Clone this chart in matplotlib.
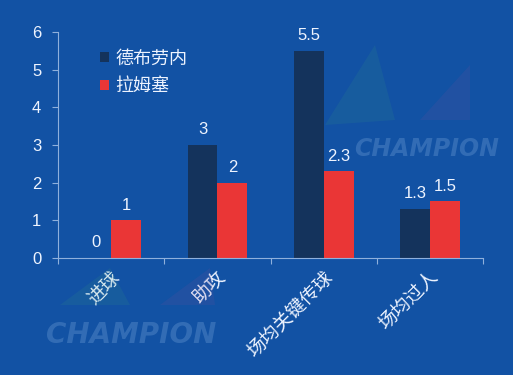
import numpy as np
import matplotlib.pyplot as plt
from matplotlib.patches import Polygon

plt.rcParams['font.family'] = ['Liberation Sans', 'Noto Sans CJK SC', 'DejaVu Sans']

categories = ['进球', '助攻', '场均关键传球', '场均过人']
players = ['德布劳内', '拉姆塞']
debruyne = [0, 3, 5.5, 1.3]
ramsey = [1, 2, 2.3, 1.5]
value_labels = [['0', '3', '5.5', '1.3'], ['1', '2', '2.3', '1.5']]

bg = '#1252a4'
dark = '#14335c'
red = '#ea3636'
txt = '#eef4ff'

fig = plt.figure(figsize=(5.13, 3.75), dpi=100)
fig.patch.set_facecolor(bg)

# faint background decoration (figure pixel coords converted to fractions)
def fpoly(pts, color):
    p = Polygon([(px / 513, 1 - py / 375) for px, py in pts], closed=True,
                transform=fig.transFigure, facecolor=color, alpha=0.13,
                edgecolor='none', zorder=0)
    fig.patches.append(p)

fpoly([(325, 125), (375, 45), (395, 120)], '#3fa07a')
fpoly([(420, 120), (470, 65), (470, 120)], '#8a4f9a')
fpoly([(60, 305), (110, 268), (130, 305)], '#3fa07a')
fpoly([(160, 305), (210, 268), (215, 305)], '#8a4f9a')

fig.text(0.69, 0.585, 'CHAMPION', fontsize=17, fontweight='bold', style='italic',
         color='#6f9fd6', alpha=0.35, family='DejaVu Sans', zorder=0)
fig.text(0.09, 0.085, 'CHAMPION', fontsize=20, fontweight='bold', style='italic',
         color='#6f9fd6', alpha=0.35, family='DejaVu Sans', zorder=0)

ax = fig.add_axes([0.113, 0.312, 0.829, 0.603])
ax.set_facecolor('none')

x = np.arange(len(categories))
w = 0.28
b1 = ax.bar(x - w / 2, debruyne, w, color=dark, label=players[0], zorder=2)
b2 = ax.bar(x + w / 2, ramsey, w, color=red, label=players[1], zorder=2)

for bars, labs in zip([b1, b2], value_labels):
    for rect, lab in zip(bars, labs):
        ax.text(rect.get_x() + rect.get_width() / 2, rect.get_height() + 0.2, lab,
                ha='center', va='bottom', color=txt, fontsize=12)

ax.set_xlim(-0.5, len(categories) - 0.5)
ax.set_ylim(0, 6)
ax.set_yticks(range(7))
ax.set_xticks(np.arange(len(categories) + 1) - 0.5, minor=False)
ax.set_xticklabels([])
ax.set_xticks(x, minor=True)
ax.set_xticklabels(categories, minor=True, rotation=45, ha='right', va='top',
                   rotation_mode='anchor', color=txt, fontsize=13.5)
ax.tick_params(axis='x', which='minor', length=0, pad=8)
ax.tick_params(axis='x', which='major', length=4, color='#8fb0dc')
ax.tick_params(axis='y', length=4, color='#8fb0dc', labelcolor=txt, labelsize=12, pad=8)

for s in ['top', 'right']:
    ax.spines[s].set_visible(False)
for s in ['left', 'bottom']:
    ax.spines[s].set_color('#8fb0dc')
    ax.spines[s].set_linewidth(0.8)

leg = ax.legend(loc='upper left', bbox_to_anchor=(0.06, 0.99), frameon=False,
                fontsize=13, handlelength=0.5, handleheight=0.5, handletextpad=0.35,
                labelspacing=0.6, labelcolor=txt)

fig.savefig('out.png', dpi=100, facecolor=bg)
